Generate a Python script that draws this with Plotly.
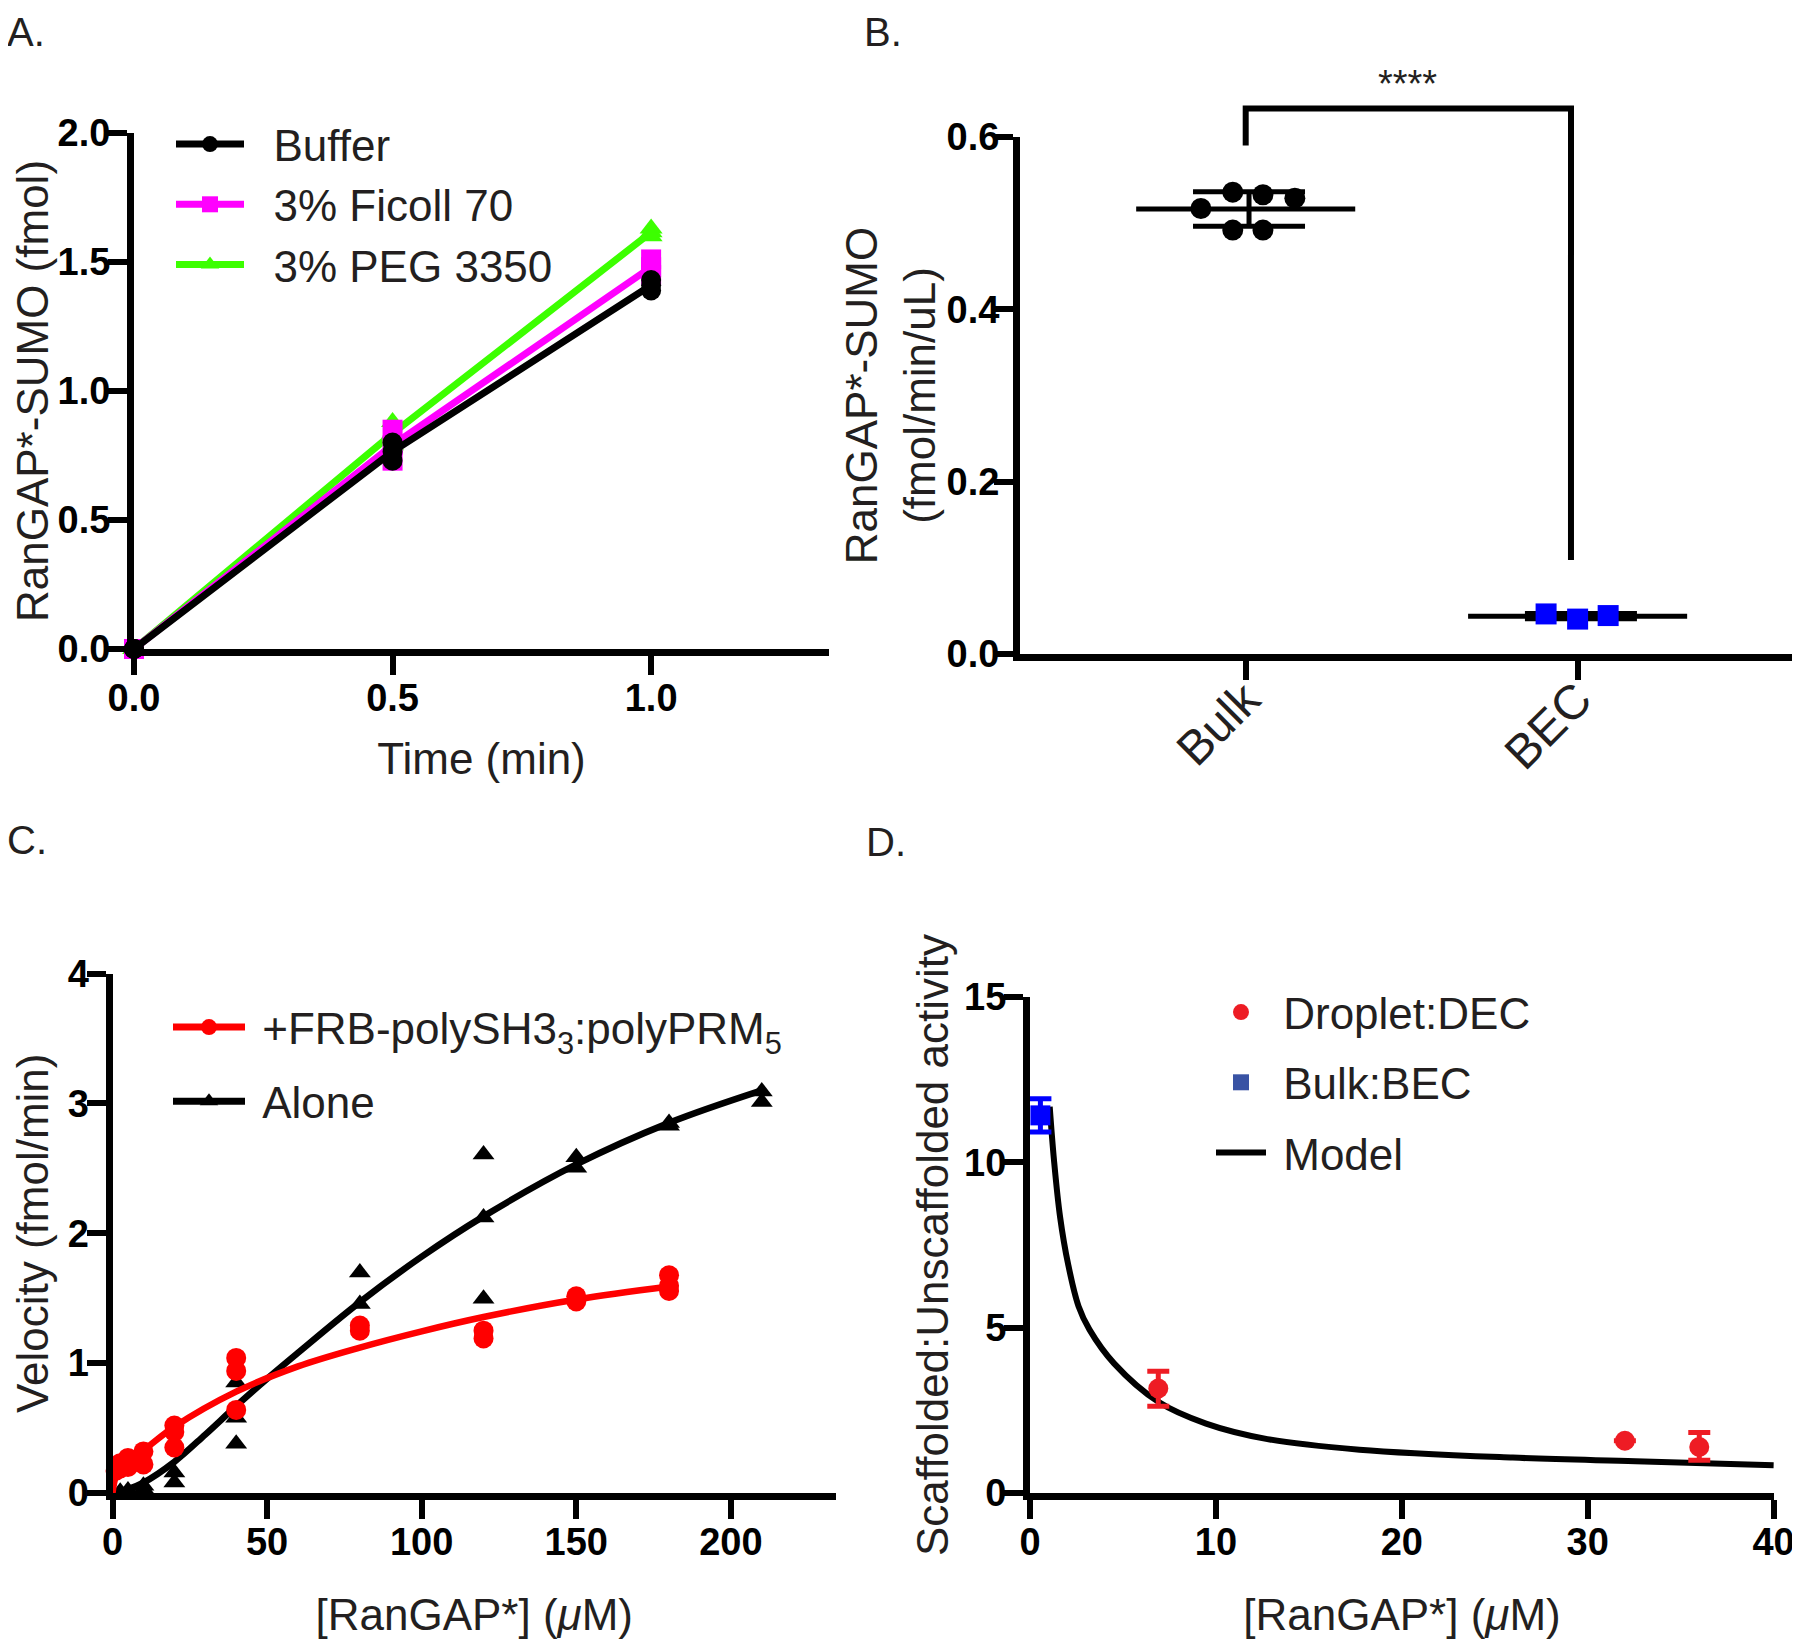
import numpy as np
import plotly.graph_objects as go

FONT = "Liberation Sans, Arial, Helvetica, sans-serif"
TXT = "#231f20"
NB = "\u00a0"

# ---------------- Panel A data ----------------
time_min = [0.0, 0.5, 1.0]
buffer_rep1 = [0.00, 0.80, 1.43]
buffer_rep2 = [0.00, 0.73, 1.39]
ficoll_rep1 = [0.00, 0.85, 1.51]
ficoll_rep2 = [0.00, 0.73, 1.45]
peg_rep1 = [0.00, 0.88, 1.63]
peg_rep2 = [0.00, 0.79, 1.60]

# ---------------- Panel B data ----------------
groups = ["Bulk", "BEC"]
bulk_vals = [0.517, 0.536, 0.533, 0.529, 0.492, 0.492]
bulk_jitter = [-0.135, -0.039, 0.052, 0.148, -0.039, 0.052]
bec_vals = [0.0465, 0.0405, 0.0446]
bec_jitter = [-0.095, 0.0, 0.092]
bracket_x = [0.0, 0.0, 0.98, 0.98]
bracket_y = [0.590, 0.633, 0.633, 0.109]
signif_label = "****"

# ---------------- Panel C data ----------------
scaf_x = [1, 2.5, 2.5, 5, 5, 7.5, 10, 10, 20, 20, 20, 40, 40, 40,
          80, 80, 120, 120, 150, 150, 180, 180, 180]
scaf_y = [0.17, 0.23, 0.19, 0.27, 0.20, 0.245, 0.32, 0.22, 0.52, 0.47, 0.35,
          1.04, 0.94, 0.64, 1.29, 1.25, 1.25, 1.19, 1.515, 1.475, 1.677, 1.596, 1.556]
scaf_fit_x = [0, 1, 2.5, 5, 10, 20, 40, 60, 80, 100, 120, 150, 180]
scaf_fit_y = [0.0, 0.12, 0.18, 0.25, 0.33, 0.51, 0.78, 0.975, 1.12, 1.245, 1.355, 1.49, 1.59]

alone_x = [2.5, 5, 10, 10, 20, 20, 40, 40, 40, 80, 80, 120, 120, 120,
           150, 150, 180, 180, 210, 210]
alone_y = [0.01, 0.02, 0.055, 0.03, 0.157, 0.08, 0.85, 0.58, 0.38, 1.697, 1.455,
           2.606, 2.121, 1.495, 2.586, 2.505, 2.848, 2.828, 3.091, 3.010]
alone_fit_x = [0, 5, 10, 20, 30, 40, 50, 60, 80, 100, 120, 150, 180, 210]
alone_fit_y = [0.0, 0.03, 0.08, 0.24, 0.45, 0.67, 0.88, 1.08, 1.47, 1.82, 2.13, 2.53, 2.85, 3.10]

# ---------------- Panel D data ----------------
droplet_x = [6.9, 32.0, 36.0]
droplet_y = [3.16, 1.58, 1.39]
droplet_err_plus = [0.52, 0.0, 0.44]
droplet_err_minus = [0.54, 0.0, 0.40]
bulk_x = [0.56]
bulk_y = [11.42]
bulk_err = [0.50]
model_x = [1.06, 1.29, 1.62, 2.05, 2.61, 3.20, 4.52, 6.90, 9.47, 12.77, 17.72, 25.97, 32.57, 40.0]
model_y = [11.68, 10.07, 8.34, 6.92, 5.65, 4.94, 3.92, 2.76, 2.10, 1.63, 1.31, 1.07, 0.96, 0.84]

# page body adds an 8 px offset; build the figure so it lands on the window grid
OFF = 8
W, H = 1800 - OFF, 1640 - OFF


def px(x):
    return (x - OFF) / W


def py(y):
    return 1 - (y - OFF) / H


def ax_style(title=None, standoff=10, **kw):
    d = dict(showline=True, linewidth=7, linecolor="black", ticks="outside",
             ticklen=19, tickwidth=6, tickcolor="black", showgrid=False,
             zeroline=False, automargin=False, ticklabelstandoff=-10,
             tickfont=dict(family=FONT, size=38, color="black", weight="bold"))
    if title is not None:
        d["title"] = dict(text=title, standoff=standoff,
                          font=dict(family=FONT, size=44, color=TXT))
    d.update(kw)
    return d


fig = go.Figure()

# ---------- Panel A traces ----------
a_series = [
    ("3% PEG 3350", peg_rep1, peg_rep2, "#3cff00", "triangle-up", 3),
    ("3% Ficoll 70", ficoll_rep1, ficoll_rep2, "#ff00ff", "square", 2),
    ("Buffer", buffer_rep1, buffer_rep2, "black", "circle", 1),
]
for name, r1, r2, col, sym, rank in a_series:
    mean = np.mean([r1, r2], axis=0)
    fig.add_trace(go.Scatter(x=time_min, y=mean, mode="lines+markers", name=NB + NB + name,
                             line=dict(color=col, width=7),
                             marker=dict(symbol=sym, size=20, color=col),
                             legend="legend", legendrank=rank, cliponaxis=False,
                             xaxis="x", yaxis="y"))
    fig.add_trace(go.Scatter(x=time_min * 2, y=list(r1) + list(r2), mode="markers",
                             marker=dict(symbol=sym, size=20, color=col),
                             showlegend=False, cliponaxis=False, xaxis="x", yaxis="y"))

# ---------- Panel B traces ----------
for gi, (vals, jit, col, sym) in enumerate([(bulk_vals, bulk_jitter, "black", "circle"),
                                             (bec_vals, bec_jitter, "#0000ff", "square")]):
    m = float(np.mean(vals))
    sd = float(np.std(vals, ddof=1))
    fig.add_trace(go.Scatter(x=[gi - 0.33, gi + 0.33], y=[m, m], mode="lines",
                             line=dict(color="black", width=5), showlegend=False,
                             xaxis="x2", yaxis="y2"))
    fig.add_trace(go.Scatter(x=[gi + 0.01], y=[m], mode="markers",
                             marker=dict(size=1, color="rgba(0,0,0,0)"),
                             error_y=dict(type="data", array=[sd], color="black",
                                          thickness=5, width=56),
                             showlegend=False, xaxis="x2", yaxis="y2"))
    fig.add_trace(go.Scatter(x=[gi + j for j in jit], y=vals, mode="markers",
                             marker=dict(symbol=sym, size=21, color=col),
                             showlegend=False, cliponaxis=False,
                             xaxis="x2", yaxis="y2"))
fig.add_trace(go.Scatter(x=bracket_x, y=bracket_y, mode="lines",
                         line=dict(color="black", width=6), showlegend=False,
                         xaxis="x2", yaxis="y5"))

# ---------- Panel C traces ----------
fig.add_trace(go.Scatter(x=alone_fit_x, y=alone_fit_y, mode="lines",
                         line=dict(color="black", width=6.5, shape="spline"),
                         showlegend=False, xaxis="x3", yaxis="y3"))
fig.add_trace(go.Scatter(x=alone_x, y=alone_y, mode="markers",
                         marker=dict(symbol="triangle-up", size=19, color="black"),
                         showlegend=False, cliponaxis=False, xaxis="x3", yaxis="y3"))
fig.add_trace(go.Scatter(x=scaf_fit_x, y=scaf_fit_y, mode="lines",
                         line=dict(color="#ff0000", width=6.5, shape="spline"),
                         showlegend=False, xaxis="x3", yaxis="y3"))
fig.add_trace(go.Scatter(x=scaf_x, y=scaf_y, mode="markers",
                         marker=dict(symbol="circle", size=20, color="#ff0000"),
                         showlegend=False, cliponaxis=False, xaxis="x3", yaxis="y3"))
fig.add_trace(go.Scatter(x=[None], y=[None], mode="lines+markers",
                         name=NB + "+FRB-polySH3<sub>3</sub>:polyPRM<sub>5</sub>",
                         line=dict(color="#ff0000", width=7),
                         marker=dict(symbol="circle", size=20, color="#ff0000"),
                         legend="legend2", legendgroup="c1", legendrank=1,
                         xaxis="x3", yaxis="y3"))
fig.add_trace(go.Scatter(x=[None], y=[None], mode="lines+markers", name=NB + "Alone",
                         line=dict(color="black", width=7),
                         marker=dict(symbol="triangle-up", size=19, color="black"),
                         legend="legend2", legendgroup="c2", legendrank=2,
                         xaxis="x3", yaxis="y3"))

# ---------- Panel D traces ----------
fig.add_trace(go.Scatter(x=model_x, y=model_y, mode="lines",
                         line=dict(color="black", width=6, shape="spline", smoothing=1.0),
                         showlegend=False, xaxis="x4", yaxis="y4"))
fig.add_trace(go.Scatter(x=bulk_x, y=bulk_y, mode="markers",
                         marker=dict(symbol="square", size=20, color="#0000ff"),
                         error_y=dict(type="data", array=bulk_err, color="#0000ff",
                                      thickness=5, width=11),
                         showlegend=False, cliponaxis=False, xaxis="x4", yaxis="y4"))
fig.add_trace(go.Scatter(x=droplet_x, y=droplet_y, mode="markers",
                         marker=dict(symbol="circle", size=20, color="#ee1c24"),
                         error_y=dict(type="data", symmetric=False, array=droplet_err_plus,
                                      arrayminus=droplet_err_minus, color="#ee1c24",
                                      thickness=5, width=11),
                         showlegend=False, cliponaxis=False, xaxis="x4", yaxis="y4"))
fig.add_trace(go.Scatter(x=[None], y=[None], mode="markers", name=NB + "Droplet:DEC",
                         marker=dict(symbol="circle", size=20, color="#ed1c24"),
                         legend="legend3", legendgroup="d1", legendrank=1,
                         xaxis="x4", yaxis="y4"))
fig.add_trace(go.Scatter(x=[None], y=[None], mode="markers", name=NB + "Bulk:BEC",
                         marker=dict(symbol="square", size=17, color="#3953a4"),
                         legend="legend3", legendgroup="d2", legendrank=2,
                         xaxis="x4", yaxis="y4"))
fig.add_trace(go.Scatter(x=[None], y=[None], mode="lines", name=NB + "Model",
                         line=dict(color="black", width=6),
                         legend="legend3", legendgroup="d3", legendrank=3,
                         xaxis="x4", yaxis="y4"))

# ---------- Layout ----------
yA = [py(649), py(133)]
yB = [py(654), py(137)]
yC = [py(1493), py(973.5)]
yD = [py(1493), py(997)]
b_top = 0.99
b_range_top = 0.6 * (b_top - yB[0]) / (yB[1] - yB[0])


def legend_cfg(x, y, itemwidth, gap, order):
    return dict(x=px(x), y=py(y), xanchor="left", yanchor="top",
                bgcolor="rgba(0,0,0,0)", borderwidth=0,
                font=dict(family=FONT, size=44, color=TXT), itemwidth=itemwidth,
                traceorder=order, tracegroupgap=gap)


mu = "<i>\u03bc</i>"
fig.update_layout(
    width=W, height=H, margin=dict(l=0, r=0, t=0, b=0),
    paper_bgcolor="white", plot_bgcolor="rgba(0,0,0,0)", template="none",
    showlegend=True,
    xaxis=ax_style("Time (min)", 28, domain=[px(134), px(829)], range=[0, 1.344],
                   dtick=0.5, tickformat=".1f", anchor="y"),
    yaxis=ax_style("RanGAP*-SUMO (fmol)", 26, domain=yA, range=[0, 2.0], dtick=0.5,
                   tickformat=".1f", anchor="x"),
    xaxis2=ax_style(None, domain=[px(1020), 1.0], range=[-0.68, 1.67],
                    tickvals=[0, 1], ticktext=groups, tickangle=-45,
                    ticklabelstandoff=-28,
                    tickfont=dict(family=FONT, size=48, color=TXT), anchor="y2"),
    yaxis2=ax_style("RanGAP*-SUMO<br>(fmol/min/uL)", 0, domain=yB, range=[0, 0.6],
                    dtick=0.2, tickformat=".1f", anchor="x2", ticklabelstandoff=-13),
    yaxis5=dict(domain=[yB[0], b_top], range=[0, b_range_top], visible=False,
                anchor="x2", showgrid=False, zeroline=False),
    xaxis3=ax_style("[RanGAP*] (" + mu + "M)", 40, domain=[px(112.5), px(836)],
                    range=[0, 234], dtick=50, anchor="y3"),
    yaxis3=ax_style("Velocity (fmol/min)", 32, domain=yC, range=[0, 4], dtick=1,
                    anchor="x3"),
    xaxis4=ax_style("[RanGAP*] (" + mu + "M)", 40, domain=[px(1030), px(1774)],
                    range=[0, 40.02], dtick=10, anchor="y4"),
    yaxis4=ax_style("Scaffolded:Unscaffolded activity", 4, domain=yD, range=[0, 15],
                    dtick=5, anchor="x4"),
    legend=legend_cfg(171, 109, 68, 0, "normal"),
    legend2=legend_cfg(168, 992, 72, 14, "grouped"),
    legend3=legend_cfg(1211, 977, 50, 10, "grouped"),
)

# panel letters: A/B pinned to the top edge of the figure, C/D by their centre
for txt, x, y, anchor in [("A.", 5, OFF, "top"), ("B.", 862, OFF, "top"),
                          ("C.", 5, 840, "middle"), ("D.", 864, 842, "middle")]:
    fig.add_annotation(text=txt, x=px(x), y=py(y), xref="paper", yref="paper",
                       xanchor="left", yanchor=anchor, showarrow=False,
                       font=dict(family=FONT, size=40, color=TXT))

fig.add_annotation(text=signif_label, x=0.486, y=0.661, xref="x2", yref="y5",
                   showarrow=False, xanchor="center", yanchor="middle",
                   font=dict(family=FONT, size=38, color=TXT))

fig.write_html("out.html")
